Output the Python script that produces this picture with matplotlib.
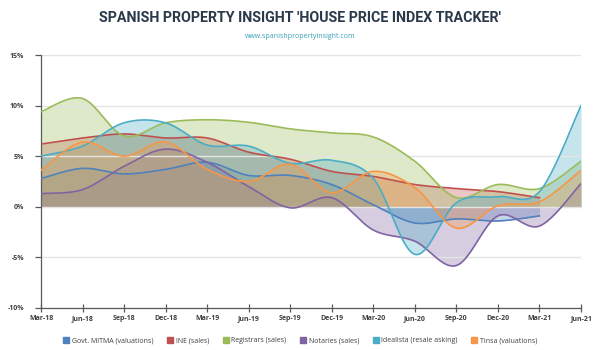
import numpy as np
import matplotlib.pyplot as plt
from matplotlib.lines import Line2D

quarters = ['Mar-18', 'Jun-18', 'Sep-18', 'Dec-18', 'Mar-19', 'Jun-19', 'Sep-19',
            'Dec-19', 'Mar-20', 'Jun-20', 'Sep-20', 'Dec-20', 'Mar-21', 'Jun-21']

mitma = [2.8, 3.8, 3.25, 3.7, 4.4, 3.1, 3.1, 2.2, 0.2, -1.6, -1.2, -1.4, -0.9, np.nan]
ine = [6.2, 6.8, 7.2, 6.8, 6.8, 5.4, 4.7, 3.5, 3.0, 2.2, 1.8, 1.5, 0.9, np.nan]
registrars = [9.4, 10.7, 7.0, 8.3, 8.6, 8.35, 7.7, 7.3, 6.9, 4.5, 0.9, 2.2, 1.8, 4.5]
notaries = [1.3, 1.7, 4.0, 5.7, 4.4, 2.0, -0.1, 0.9, -2.3, -3.4, -5.8, -0.9, -1.9, 2.3]
idealista = [5.0, 6.0, 8.3, 8.3, 6.1, 6.0, 4.3, 4.6, 2.8, -4.7, 0.4, 1.0, 1.5, 10.0]
tinsa = [3.6, 6.4, 5.0, 6.4, 3.7, 2.5, 4.2, 1.4, 3.5, 1.9, -2.1, 0.1, 0.5, 3.6]

names = ['Govt. MITMA (valuations)', 'INE (sales)', 'Registrars (sales)',
         'Notaries (sales)', 'Idealista (resale asking)', 'Tinsa (valuations)']
series = [mitma, ine, registrars, notaries, idealista, tinsa]
colors = ['#4f81bd', '#c0504d', '#9bbb59', '#8064a2', '#4bacc6', '#f79646']


def smooth(x, y, n=24):
    # catmull-rom style curve, like excel "smoothed line"
    x = np.asarray(x, float)
    y = np.asarray(y, float)
    ok = ~np.isnan(y)
    x, y = x[ok], y[ok]
    px = np.concatenate([[x[0]], x, [x[-1]]])
    py = np.concatenate([[y[0]], y, [y[-1]]])
    t = np.linspace(0, 1, n)
    outx, outy = [], []
    for i in range(1, len(px) - 2):
        p0 = np.array([px[i], py[i]])
        p3 = np.array([px[i + 1], py[i + 1]])
        c1 = p0 + (np.array([px[i + 1], py[i + 1]]) - np.array([px[i - 1], py[i - 1]])) / 6
        c2 = p3 - (np.array([px[i + 2], py[i + 2]]) - np.array([px[i], py[i]])) / 6
        b = ((1 - t) ** 3)[:, None] * p0 + (3 * (1 - t) ** 2 * t)[:, None] * c1 \
            + (3 * (1 - t) * t ** 2)[:, None] * c2 + (t ** 3)[:, None] * p3
        outx.extend(b[:, 0])
        outy.extend(b[:, 1])
    return np.array(outx), np.array(outy)


plt.rcParams['font.family'] = ['Open Sans', 'DejaVu Sans']
fig = plt.figure(figsize=(6, 3.5), dpi=100)
ax = fig.add_axes([41 / 600, 1 - 308 / 350, 540 / 600, 253 / 350])

xs = np.arange(len(quarters))
ax.set_yticks([-10, -5, 0, 5, 10, 15])
ax.grid(axis='y', color='#e4e4e4', lw=1.0, zorder=0)
for vals, c in zip(series, colors):
    sx, sy = smooth(xs, vals)
    ax.fill_between(sx, sy, 0, color=c, alpha=0.32, lw=0, zorder=1)
    ax.plot(sx, sy, color=c, lw=1.2, zorder=3)

ax.set_xlim(0, len(quarters) - 1)
ax.set_ylim(-10, 15)
ax.set_xticks(xs)
ax.set_xticklabels(quarters)
ax.set_yticklabels(['-10%', '-5%', '0%', '5%', '10%', '15%'])
for s in ['top', 'right']:
    ax.spines[s].set_visible(False)
for s in ['left', 'bottom']:
    ax.spines[s].set_color('#595959')
    ax.spines[s].set_linewidth(0.9)
ax.tick_params(axis='x', direction='inout', length=6, width=0.9, color='#595959',
               labelsize=5, labelcolor='#404040', pad=2)
ax.tick_params(axis='y', direction='out', length=4, width=0.9, color='#595959',
               labelsize=5, labelcolor='#404040', pad=8)
for lab in ax.get_xticklabels() + ax.get_yticklabels():
    lab.set_fontweight('bold')

fig.text(0.5, 0.948, "SPANISH PROPERTY INSIGHT 'HOUSE PRICE INDEX TRACKER'",
         ha='center', va='center', fontsize=10.3, fontweight='bold',
         color='#2b3a4b', family=['Roboto', 'DejaVu Sans'])
fig.text(0.5, 0.896, 'www.spanishpropertyinsight.com', ha='center', va='center',
         fontsize=5, color='#3aa0b5')

handles = [Line2D([], [], marker='s', ls='none', markersize=5, markerfacecolor=c,
                  markeredgecolor=c) for c in colors]
fig.legend(handles, names, loc='center', bbox_to_anchor=(0.5, 0.026), ncol=6,
           frameon=False, fontsize=5, labelcolor='#404040', handletextpad=0.3,
           columnspacing=1.9, handlelength=1.0)

fig.savefig('out.png', dpi=100, facecolor='white')
